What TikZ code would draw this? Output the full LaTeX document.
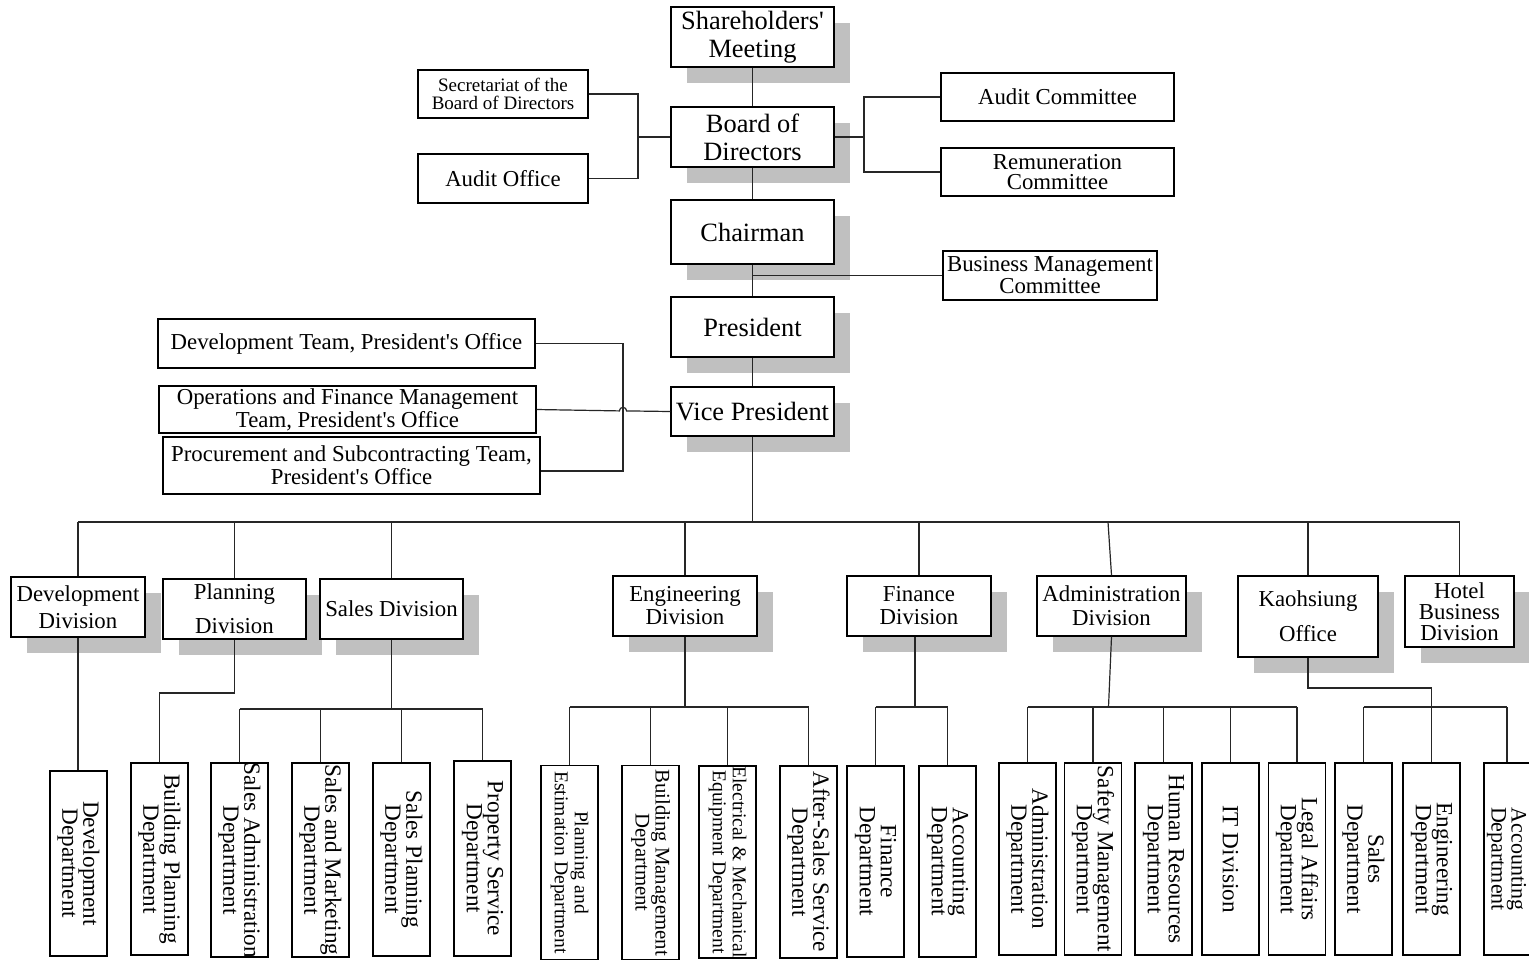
\documentclass[tikz,border=0pt]{standalone}
\usepackage{fontspec}
\setmainfont{Liberation Serif}[Ligatures=TeXOff]
\usetikzlibrary{shadows}
\definecolor{shgray}{RGB}{192,192,192}
\tikzset{
  box/.style={draw, line width=0.7pt, fill=white, inner sep=0.5pt, align=center},
  shbox/.style={box, drop shadow={shadow xshift=8pt, shadow yshift=-8pt, fill=shgray, draw=none, opacity=1}},
  big/.style={font=\fontsize{13.2}{14}\selectfont},
  mid/.style={font=\fontsize{11.4}{10}\selectfont},
  tiny/.style={font=\fontsize{9.5}{9}\selectfont},
  dbox/.style={draw, line width=0.7pt, fill=white, minimum width=28.5pt, inner sep=0pt},
  dtext/.style={rotate=-90, align=center, inner sep=0pt, font=\fontsize{11.6}{10.5}\selectfont},
  dsmall/.style={rotate=-90, align=center, inner sep=0pt, font=\fontsize{9.8}{10}\selectfont},
  link/.style={line width=0.6pt, draw=black!85},
}
\begin{document}
\begin{tikzpicture}[x=0.5pt, y=-0.5pt]
\useasboundingbox (0,0) rectangle (1529,960);

% top column
\node[shbox,big,minimum width=81.5pt,minimum height=30pt] (sh) at (752.5,37) {Shareholders'\\Meeting};
\node[shbox,big,minimum width=81.5pt,minimum height=30pt] (bd) at (752.5,137) {Board of\\Directors};
\node[shbox,big,minimum width=81.5pt,minimum height=32pt] (ch) at (752.5,232) {Chairman};
\node[shbox,big,minimum width=81.5pt,minimum height=30pt] (pr) at (752.5,327) {President};
\node[shbox,big,minimum width=81.5pt,minimum height=24.5pt] (vp) at (752.5,411.5) {Vice President};

% side boxes
\node[box,tiny,minimum width=85pt,minimum height=24pt] (sec) at (503,94) {Secretariat of the\\Board of Directors};
\node[box,mid,minimum width=85pt,minimum height=24.5pt] (ao) at (503,178.5) {Audit Office};
\node[box,mid,minimum width=116.5pt,minimum height=24pt] (ac) at (1057.5,97) {Audit Committee};
\node[box,mid,minimum width=116.5pt,minimum height=24pt] (rc) at (1057.5,172) {Remuneration\\Committee};
\node[box,mid,minimum width=107pt,minimum height=24.5pt] (bmc) at (1050,275.5) {Business Management\\Committee};
\node[box,mid,minimum width=188.5pt,minimum height=24.5pt] (dt) at (346.5,343.5) {Development Team, President's Office};
\node[box,mid,minimum width=188.5pt,minimum height=23.5pt] (of) at (347.5,409.5) {Operations and Finance Management\\Team, President's Office};
\node[box,mid,minimum width=188.5pt,minimum height=28.5pt] (pc) at (351.5,465.5) {Procurement and Subcontracting Team,\\President's Office};

% divisions
\node[shbox,font=\fontsize{11.4}{13.5}\selectfont,minimum width=67pt,minimum height=30pt] (dd) at (78,607) {Development\\Division};
\node[shbox,font=\fontsize{11.4}{17}\selectfont,minimum width=71.5pt,minimum height=30pt] (pd) at (234.5,609) {Planning\\Division};
\node[shbox,mid,minimum width=71.5pt,minimum height=30pt] (sd) at (391.5,609) {Sales Division};
\node[shbox,font=\fontsize{11.4}{11.5}\selectfont,minimum width=72pt,minimum height=30pt] (ed) at (685,606) {Engineering\\Division};
\node[shbox,font=\fontsize{11.4}{11.5}\selectfont,minimum width=72pt,minimum height=30pt] (fd) at (919,606) {Finance\\Division};
\node[shbox,font=\fontsize{11.4}{12}\selectfont,minimum width=74.5pt,minimum height=30pt] (ad) at (1111.5,606) {Administration\\Division};
\node[shbox,font=\fontsize{11.4}{17.5}\selectfont,minimum width=70pt,minimum height=40.5pt] (ko) at (1308,616.5) {Kaohsiung\\Office};
\node[shbox,font=\fontsize{11.4}{10.5}\selectfont,minimum width=54.5pt,minimum height=35.5pt] (hb) at (1459.5,611.5) {Hotel\\Business\\Division};

% departments
\node[dbox,minimum height=92.5pt] (d1) at (78.5,863.5) {};
\node[dbox,minimum height=96pt] (d2) at (159.5,859) {};
\node[dbox,minimum height=97pt] (d3) at (239.5,860) {};
\node[dbox,minimum height=97pt] (d4) at (320.5,860) {};
\node[dbox,minimum height=96.5pt] (d5) at (401.5,859.5) {};
\node[dbox,minimum height=97.5pt] (d6) at (482.5,858.5) {};
\node[dbox,minimum height=97pt] (d7) at (569.5,862.5) {};
\node[dbox,minimum height=97pt] (d8) at (650.5,862.5) {};
\node[dbox,minimum height=96pt] (d9) at (727.5,862) {};
\node[dbox,minimum height=96pt] (d10) at (808.5,862) {};
\node[dbox,minimum height=95.5pt] (d11) at (875.5,861.5) {};
\node[dbox,minimum height=95.5pt] (d12) at (947.5,861.5) {};
\node[dbox,minimum height=96pt] (d13) at (1027.5,859) {};
\node[dbox,minimum height=96pt] (d14) at (1093,859) {};
\node[dbox,minimum height=96pt] (d15) at (1163.5,859) {};
\node[dbox,minimum height=96pt] (d16) at (1230.5,859) {};
\node[dbox,minimum height=96pt] (d17) at (1297,859) {};
\node[dbox,minimum height=96pt] (d18) at (1363.5,859) {};
\node[dbox,minimum height=96pt] (d19) at (1431.5,859) {};
\node[dbox,minimum height=96pt] (d20) at (1512.5,859) {};

\node[dtext] (t1) at (d1.center) {Development\\Department};
\node[dtext] (t2) at (d2.center) {Building Planning\\Department};
\node[dtext] (t3) at (d3.center) {Sales Administration\\Department};
\node[dtext] (t4) at (d4.center) {Sales and Marketing\\Department};
\node[dtext] (t5) at (d5.center) {Sales Planning\\Department};
\node[dtext] (t6) at (d6.center) {Property Service\\Department};
\node[dsmall] (t7) at (d7.center) {Planning and\\Estimation Department};
\node[dsmall,font=\fontsize{10.4}{10}\selectfont] (t8) at (d8.center) {Building Management\\Department};
\node[dsmall] (t9) at (d9.center) {Electrical \& Mechanical\\Equipment Department};
\node[dtext] (t10) at (d10.center) {After-Sales Service\\Department};
\node[dtext] (t11) at (d11.center) {Finance\\Department};
\node[dtext] (t12) at (d12.center) {Accounting\\Department};
\node[dtext] (t13) at (d13.center) {Administration\\Department};
\node[dtext] (t14) at (d14.center) {Safety Management\\Department};
\node[dtext] (t15) at (d15.center) {Human Resources\\Department};
\node[dtext] (t16) at (d16.center) {IT Division};
\node[dtext] (t17) at (d17.center) {Legal Affairs\\Department};
\node[dtext] (t18) at (d18.center) {Sales\\Department};
\node[dtext] (t19) at (d19.center) {Engineering\\Department};
\node[dtext,font=\fontsize{11}{10}\selectfont] (t20) at ([xshift=-3pt]d20.center) {Accounting\\Department};

% spine
\draw[link] (sh.south) -- (bd.north);
\draw[link] (bd.south) -- (ch.north);
\draw[link] (ch.south) -- (pr.north);
\draw[link] (pr.south) -- (vp.north);
\coordinate (busL) at (78,522);
\coordinate (busR) at (1459.5,522);
\draw[link] (vp.south) -- (vp.south |- busL);
\draw[link] (busL) -- (busR);

% side connectors
\coordinate (sj) at (638,137);
\draw[link] (sec.east) -| (sj) |- (ao.east);
\draw[link] (sj) -- (bd.west);
\coordinate (aj) at (864,137);
\draw[link] (ac.west) -| (aj) |- (rc.west);
\draw[link] (bd.east) -- (aj);
\coordinate (bj) at (752.5,275.5);
\draw[link] (bj) -- (bmc.west);
\coordinate (pcj) at (623,471);
\draw[link] (dt.east) -| (pcj) -- (pcj -| pc.east);
\draw[link] (of.east) -- (619.4,410.9) arc[start angle=180, end angle=0, radius=1.8pt] -- (vp.west);

% division drops
\foreach \n in {dd,pd,sd,ed,fd,ko,hb}{\draw[link] (\n.north) -- (\n.north |- busL);}
\draw[link] (1108,522) -- (ad.north);

% development
\draw[link] (dd.south) -- (dd.south |- d1.north);
% planning
\coordinate (pk) at (159.5,693);
\draw[link] (pd.south) |- (pk) -- (d2.north);
% sales
\coordinate (sb) at (391.5,709);
\draw[link] (sd.south) -- (sb);
\draw[link] (d3.north |- sb) -- (d6.north |- sb);
\foreach \n in {d3,d4,d5,d6}{\draw[link] (\n.north) -- (\n.north |- sb);}
% engineering
\coordinate (eb) at (685,707);
\draw[link] (ed.south) -- (eb);
\draw[link] (d7.north |- eb) -- (d10.north |- eb);
\foreach \n in {d7,d8,d9,d10}{\draw[link] (\n.north) -- (\n.north |- eb);}
% finance
\coordinate (fb) at (915,707);
\draw[link] (fb |- fd.south) -- (fb);
\draw[link] (d11.north |- fb) -- (d12.north |- fb);
\foreach \n in {d11,d12}{\draw[link] (\n.north) -- (\n.north |- fb);}
% administration
\coordinate (ab) at (1108.5,707);
\draw[link] (ad.south) -- (ab);
\draw[link] (d13.north |- ab) -- (d17.north |- ab);
\foreach \n in {d13,d14,d15,d16,d17}{\draw[link] (\n.north) -- (\n.north |- ab);}
% kaohsiung
\coordinate (kk) at (1431.5,688);
\draw[link] (ko.south) |- (kk) -- (d19.north);
\coordinate (kb) at (1507,707);
\draw[link] (d18.north |- kb) -- (kb);
\draw[link] (d18.north) -- (d18.north |- kb);
\draw[link] (kb) -- (kb |- d20.north);
\end{tikzpicture}
\end{document}
